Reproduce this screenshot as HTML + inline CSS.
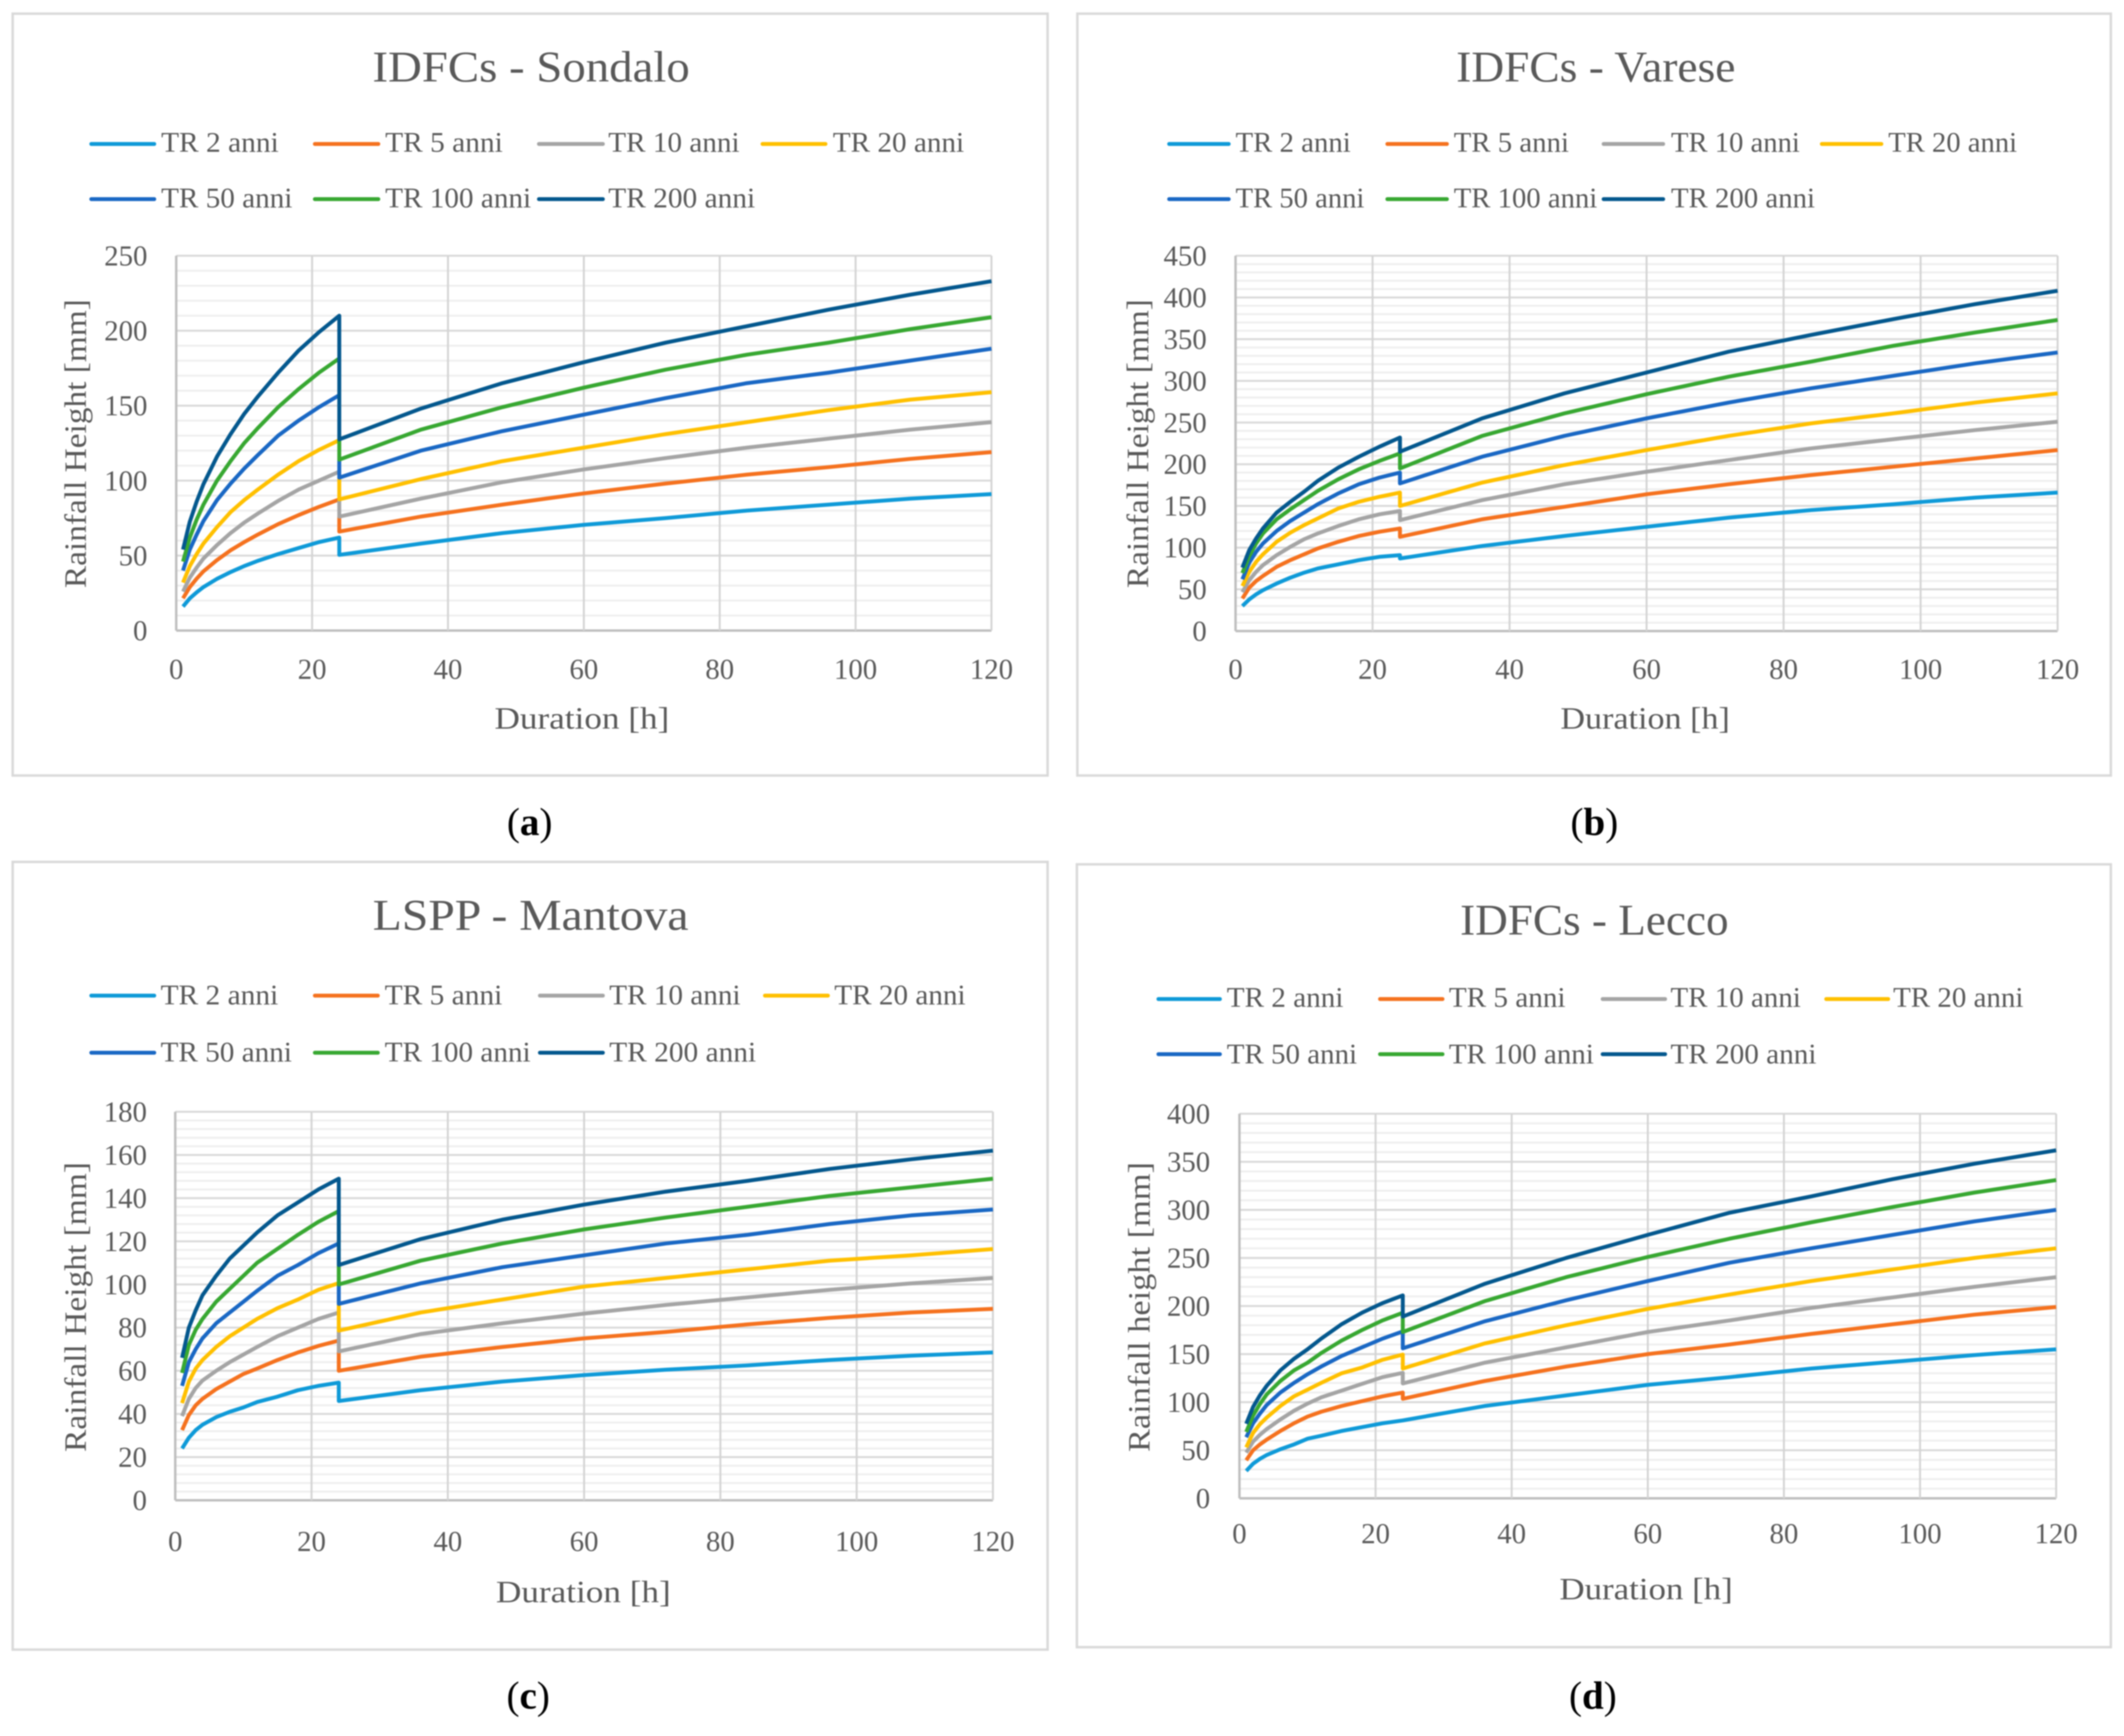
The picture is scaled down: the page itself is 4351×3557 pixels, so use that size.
<!DOCTYPE html>
<html lang="en">
<head>
<meta charset="utf-8">
<title>Rainfall height-duration curves</title>
<style>
  html,body{margin:0;padding:0;background:#fff;}
  #figure{display:block;width:4351px;height:3557px;filter:blur(1.3px);font-family:"Liberation Serif",serif;}
  .panel{fill:#fff;stroke:#d9d9d9;stroke-width:5;}
  .title{font-size:90px;fill:#595959;text-anchor:middle;}
  .leg{font-size:58px;fill:#595959;}
  .axt{font-size:64px;fill:#595959;text-anchor:middle;}
  .cap{font-size:80px;fill:#000;text-anchor:middle;}
  .leg-line{stroke-width:8;stroke-linecap:round;fill:none;}
  .c2{stroke:#0f9ad8}.c5{stroke:#f5721f}.c10{stroke:#a5a5a5}.c20{stroke:#ffc000}
  .c50{stroke:#1a68c4}.c100{stroke:#38a832}.c200{stroke:#04588e}
</style>
</head>
<body>
<svg id="figure" xmlns="http://www.w3.org/2000/svg" width="4351" height="3557" viewBox="0 0 4351 3557">
  <rect x="0" y="0" width="4351" height="3557" fill="#fff"/>

  <!-- Panel a -->
  <g>
    <rect class="panel" x="26" y="28" width="2120" height="1561"/>
    <text class="title" x="1088" y="167" textLength="650">IDFCs - Sondalo</text>
    <g>
      <line class="leg-line c2" x1="187" x2="316" y1="295" y2="295"/>
      <text class="leg" x="330" y="311" textLength="241">TR 2 anni</text>
      <line class="leg-line c5" x1="645" x2="775" y1="295" y2="295"/>
      <text class="leg" x="789" y="311" textLength="241">TR 5 anni</text>
      <line class="leg-line c10" x1="1104" x2="1235" y1="295" y2="295"/>
      <text class="leg" x="1246" y="311" textLength="269">TR 10 anni</text>
      <line class="leg-line c20" x1="1562" x2="1691" y1="295" y2="295"/>
      <text class="leg" x="1706" y="311" textLength="269">TR 20 anni</text>
      <line class="leg-line c50" x1="187" x2="316" y1="408" y2="408"/>
      <text class="leg" x="330" y="425" textLength="269">TR 50 anni</text>
      <line class="leg-line c100" x1="645" x2="775" y1="408" y2="408"/>
      <text class="leg" x="789" y="425" textLength="299">TR 100 anni</text>
      <line class="leg-line c200" x1="1104" x2="1235" y1="408" y2="408"/>
      <text class="leg" x="1246" y="425" textLength="301">TR 200 anni</text>
    </g>
    <g id="plot-a"></g>
    <text class="axt" transform="translate(176,909) rotate(-90)" textLength="592">Rainfall Height [mm]</text>
    <text class="axt" x="1192" y="1493" textLength="358">Duration [h]</text>
    <text class="cap" x="1085" y="1711">(<tspan font-weight="bold">a</tspan>)</text>
  </g>

  <!-- Panel b -->
  <g>
    <rect class="panel" x="2207" y="28" width="2117" height="1561"/>
    <text class="title" x="3269" y="167" textLength="572">IDFCs - Varese</text>
    <g>
      <line class="leg-line c2" x1="2395" x2="2517" y1="295" y2="295"/>
      <text class="leg" x="2531" y="311" textLength="236">TR 2 anni</text>
      <line class="leg-line c5" x1="2842" x2="2964" y1="295" y2="295"/>
      <text class="leg" x="2978" y="311" textLength="236">TR 5 anni</text>
      <line class="leg-line c10" x1="3285" x2="3407" y1="295" y2="295"/>
      <text class="leg" x="3423" y="311" textLength="264">TR 10 anni</text>
      <line class="leg-line c20" x1="3732" x2="3854" y1="295" y2="295"/>
      <text class="leg" x="3868" y="311" textLength="264">TR 20 anni</text>
      <line class="leg-line c50" x1="2395" x2="2517" y1="408" y2="408"/>
      <text class="leg" x="2531" y="425" textLength="264">TR 50 anni</text>
      <line class="leg-line c100" x1="2842" x2="2964" y1="408" y2="408"/>
      <text class="leg" x="2978" y="425" textLength="294">TR 100 anni</text>
      <line class="leg-line c200" x1="3285" x2="3407" y1="408" y2="408"/>
      <text class="leg" x="3423" y="425" textLength="295">TR 200 anni</text>
    </g>
    <g id="plot-b"></g>
    <text class="axt" transform="translate(2352,909) rotate(-90)" textLength="592">Rainfall Height [mm]</text>
    <text class="axt" x="3370" y="1493" textLength="347">Duration [h]</text>
    <text class="cap" x="3266" y="1711">(<tspan font-weight="bold">b</tspan>)</text>
  </g>

  <!-- Panel c -->
  <g>
    <rect class="panel" x="26" y="1766" width="2120" height="1614"/>
    <text class="title" x="1087" y="1905" textLength="647">LSPP - Mantova</text>
    <g>
      <line class="leg-line c2" x1="187" x2="316" y1="2040" y2="2040"/>
      <text class="leg" x="329" y="2058" textLength="241">TR 2 anni</text>
      <line class="leg-line c5" x1="645" x2="774" y1="2040" y2="2040"/>
      <text class="leg" x="788" y="2058" textLength="241">TR 5 anni</text>
      <line class="leg-line c10" x1="1106" x2="1235" y1="2040" y2="2040"/>
      <text class="leg" x="1248" y="2058" textLength="269">TR 10 anni</text>
      <line class="leg-line c20" x1="1567" x2="1696" y1="2040" y2="2040"/>
      <text class="leg" x="1709" y="2058" textLength="269">TR 20 anni</text>
      <line class="leg-line c50" x1="187" x2="316" y1="2157" y2="2157"/>
      <text class="leg" x="329" y="2175" textLength="269">TR 50 anni</text>
      <line class="leg-line c100" x1="645" x2="774" y1="2157" y2="2157"/>
      <text class="leg" x="788" y="2175" textLength="299">TR 100 anni</text>
      <line class="leg-line c200" x1="1106" x2="1235" y1="2157" y2="2157"/>
      <text class="leg" x="1248" y="2175" textLength="301">TR 200 anni</text>
    </g>
    <g id="plot-c"></g>
    <text class="axt" transform="translate(176,2678) rotate(-90)" textLength="594">Rainfall Height [mm]</text>
    <text class="axt" x="1195" y="3283" textLength="358">Duration [h]</text>
    <text class="cap" x="1082" y="3501">(<tspan font-weight="bold">c</tspan>)</text>
  </g>

  <!-- Panel d -->
  <g>
    <rect class="panel" x="2206" y="1771" width="2118" height="1604"/>
    <text class="title" x="3266" y="1915" textLength="550">IDFCs - Lecco</text>
    <g>
      <line class="leg-line c2" x1="2373" x2="2499" y1="2047" y2="2047"/>
      <text class="leg" x="2513" y="2063" textLength="239">TR 2 anni</text>
      <line class="leg-line c5" x1="2827" x2="2955" y1="2047" y2="2047"/>
      <text class="leg" x="2968" y="2063" textLength="239">TR 5 anni</text>
      <line class="leg-line c10" x1="3283" x2="3411" y1="2047" y2="2047"/>
      <text class="leg" x="3422" y="2063" textLength="267">TR 10 anni</text>
      <line class="leg-line c20" x1="3741" x2="3868" y1="2047" y2="2047"/>
      <text class="leg" x="3878" y="2063" textLength="267">TR 20 anni</text>
      <line class="leg-line c50" x1="2373" x2="2499" y1="2160" y2="2160"/>
      <text class="leg" x="2513" y="2179" textLength="267">TR 50 anni</text>
      <line class="leg-line c100" x1="2827" x2="2955" y1="2160" y2="2160"/>
      <text class="leg" x="2968" y="2179" textLength="297">TR 100 anni</text>
      <line class="leg-line c200" x1="3283" x2="3411" y1="2160" y2="2160"/>
      <text class="leg" x="3422" y="2179" textLength="299">TR 200 anni</text>
    </g>
    <g id="plot-d"></g>
    <text class="axt" transform="translate(2355,2678) rotate(-90)" textLength="594">Rainfall height [mm]</text>
    <text class="axt" x="3372" y="3277" textLength="355">Duration [h]</text>
    <text class="cap" x="3263" y="3501">(<tspan font-weight="bold">d</tspan>)</text>
  </g>
</svg>

<script>
// Shared x values (hours). 24 appears twice: the curves step down at that duration.
const durations = [1,2,3,4,6,8,10,12,15,18,21,24,24,36,48,60,72,84,96,108,120];
const xTicks = [0,20,40,60,80,100,120];
const seriesNames = ['tr2','tr5','tr10','tr20','tr50','tr100','tr200'];

const sondaloYTicks = [0,50,100,150,200,250];
const sondaloTr2   = [16,21.5,25.5,29,34.5,39,43,46.5,51,55,59,62,50.5,58,65,70.5,75,80,84,88,91];
const sondaloTr5   = [21.5,29,34.6,39.5,47,53.5,59,64,71,77,82.5,87.5,66,76,84,91.5,98,104,109,114.5,119];
const sondaloTr10  = [26,35.3,42,48,57,65,72,78,86.5,94,100,106,76,88,99,107.5,115,122,128,134,139];
const sondaloTr20  = [32,43,51,58,69,79,87,94,104,113,120.5,127,87.5,101,113,122,131,139,147,154,159];
const sondaloTr50  = [40,54,64,73,87,98,108,117,130,140,149,157,102,120,133,144,155,165,172,180,188];
const sondaloTr100 = [46,62,74,84,100,113,125,135,149,161,172,181.5,114,134,149,162,174,184,192,201,209];
const sondaloTr200 = [54,72.6,86,97.6,116,131,144.5,156,172,186.7,199,210,127.5,148,165,179,192,203,214,224,233];

const vareseYTicks = [0,50,100,150,200,250,300,350,400,450];
const vareseTr2   = [30,38,44,49,57,64,70,75,80,85,89,91,87,102,114,125,136,145,152,160,166];
const vareseTr5   = [39,52,60,66,77,85,92,99,107,114,119,123,113,134,149,164,176,187,197,207,217];
const vareseTr10  = [46.7,61,71,79,91,101,110,117,126,134,140,144,133,157,176,191,205,219,230,241,251];
const vareseTr20  = [54,71,83,92,107,118,127,135,147,155,161,166,150,178,199,217,234,249,261,274,285];
const vareseTr50  = [62,82,95,105,120,132,142,152,165,176,184,190,177,209,234,255,274,291,306,321,334];
const vareseTr100 = [69.5,90,105,117,134,146,157,168,182,194,204,213,195,234,261,284,305,323,342,358,373];
const vareseTr200 = [76,97,111,123,142,155,167,180,196,209,221,232,215,255,285,310,335,355,374,392,408];

const mantovaYTicks = [0,20,40,60,80,100,120,140,160,180];
const mantovaTr2   = [24,29,32.5,35,38.5,41,43,45.5,48,51,53,54.5,46,51,55,58,60.5,62.5,65,67,68.5];
const mantovaTr5   = [32.5,39.5,44,47,51.5,55,58.5,61,65,68.5,71.5,74,60,66.5,71,75,78,81.5,84.5,87,88.7];
const mantovaTr10  = [39,47,52,55.5,60,64,67.5,71,76,80,84,87,69,77,82,86.5,90.5,94,97.5,100.5,103];
const mantovaTr20  = [45,55,61,65,71,76,80,84,89,93,97.5,100.6,78.6,87,93,99,103,107,111,113.5,116.4];
const mantovaTr50  = [53,64,70,75,82,87,92,97,104,109,114.5,119,91,100.5,108,113.5,119,123,128,132,134.7];
const mantovaTr100 = [59,72,79,84,92,98,104,110,116.5,123,129,134,100,111,119,125.5,131,136,141,145,149];
const mantovaTr200 = [66,80,88,95,104,112,118,124,132,138,144,149,109,121,130,137,143,148,153.5,158,162];

const leccoYTicks = [0,50,100,150,200,250,300,350,400];
const leccoTr2   = [28.5,36,41,45,51,56,62,65,70,74,78,81,81,96,107,118,126,135,142,149,155];
const leccoTr5   = [39.6,50,56,61,70,78,85,90,96,101,106,110,103.5,122,137,150,160,171,181,191,199];
const leccoTr10  = [47.5,59,66,72,82,91,98.5,105,112,119,126,130.5,119.5,141,157,173,185,198,209,220,230];
const leccoTr20  = [53,68,77,84,96,106,113,120,130,136,144,149.5,135,161,180,197,212,226,238,250,260];
const leccoTr50  = [63.5,78,88,97,110,120,129,137,148,157,166,173.6,156,184,206,226,245,260,274,288,300];
const leccoTr100 = [69,86,98,108,122,133,141,151,164,175,185,193,173,205,230,251,270,287,303,318,331];
const leccoTr200 = [77.5,95,107,117,133,145,155,166,181,193,203,211,189,223,250,274,297,314,332,348,362];

const NS = 'http://www.w3.org/2000/svg';
const colors = ['#0f9ad8','#f5721f','#a5a5a5','#ffc000','#1a68c4','#38a832','#04588e'];

document.querySelectorAll('text[textLength]').forEach(t => t.setAttribute('lengthAdjust', 'spacingAndGlyphs'));

function shape(parent, tag, attrs) {
  const node = document.createElementNS(NS, tag);
  for (const k in attrs) node.setAttribute(k, attrs[k]);
  parent.appendChild(node);
  return node;
}

function drawChart(id, box, yTicks, seriesList, labels) {
  const root = document.getElementById(id);
  const xMax = xTicks[xTicks.length - 1];
  const yMax = yTicks[yTicks.length - 1];
  const xScale = v => box.left + (box.right - box.left) * v / xMax;
  const yScale = v => box.bottom - (box.bottom - box.top) * v / yMax;
  const minorCount = 5;

  // minor horizontal gridlines
  for (let i = 0; i < yTicks.length - 1; i++) {
    const step = (yTicks[i + 1] - yTicks[i]) / minorCount;
    for (let j = 1; j < minorCount; j++) {
      const yy = yScale(yTicks[i] + j * step);
      const minor = shape(root, 'line', {x1: box.left, x2: box.right, y1: yy, y2: yy, stroke: '#efefef', 'stroke-width': 4});
      
      
    }
  }
  // major horizontal gridlines and y tick labels
  yTicks.forEach(t => {
    const yy = yScale(t);
    const grid = shape(root, 'line', {x1: box.left, x2: box.right, y1: yy, y2: yy, stroke: t === 0 ? '#bfbfbf' : '#d9d9d9', 'stroke-width': t === 0 ? 5 : 4});
    
    
    const label = shape(root, 'text', {x: labels.yRight, y: yy + 20, 'font-size': 59, fill: '#595959', 'text-anchor': 'end'});
    label.textContent = String(t);
    
    
  });
  // vertical gridlines and x tick labels
  xTicks.forEach(t => {
    const xx = xScale(t);
    const grid = shape(root, 'line', {x1: xx, x2: xx, y1: box.top, y2: box.bottom, stroke: t === 0 ? '#bfbfbf' : '#d4d4d4', 'stroke-width': t === 0 ? 5 : 4});
    
    
    const label = shape(root, 'text', {x: xx, y: labels.xBase, 'font-size': 59, fill: '#595959', 'text-anchor': 'middle'});
    label.textContent = String(t);
    
    
  });
  // series
  seriesList.forEach((values, s) => {
    const pts = values.map((v, i) => xScale(durations[i]).toFixed(1) + ',' + yScale(v).toFixed(1)).join(' ');
    const line = shape(root, 'polyline', {points: pts, fill: 'none', stroke: colors[s], 'stroke-width': 8, 'stroke-linejoin': 'round', 'stroke-linecap': 'butt'});
    
    
  });
}

drawChart('plot-a', {left: 361, right: 2031, top: 524, bottom: 1292}, sondaloYTicks,
  [sondaloTr2, sondaloTr5, sondaloTr10, sondaloTr20, sondaloTr50, sondaloTr100, sondaloTr200],
  {yRight: 302, xBase: 1391});
drawChart('plot-b', {left: 2531, right: 4215, top: 524, bottom: 1293}, vareseYTicks,
  [vareseTr2, vareseTr5, vareseTr10, vareseTr20, vareseTr50, vareseTr100, vareseTr200],
  {yRight: 2472, xBase: 1391});
drawChart('plot-c', {left: 359, right: 2034, top: 2278, bottom: 3074}, mantovaYTicks,
  [mantovaTr2, mantovaTr5, mantovaTr10, mantovaTr20, mantovaTr50, mantovaTr100, mantovaTr200],
  {yRight: 301, xBase: 3178});
drawChart('plot-d', {left: 2539, right: 4212, top: 2282, bottom: 3070}, leccoYTicks,
  [leccoTr2, leccoTr5, leccoTr10, leccoTr20, leccoTr50, leccoTr100, leccoTr200],
  {yRight: 2479, xBase: 3162});
</script>
</body>
</html>
